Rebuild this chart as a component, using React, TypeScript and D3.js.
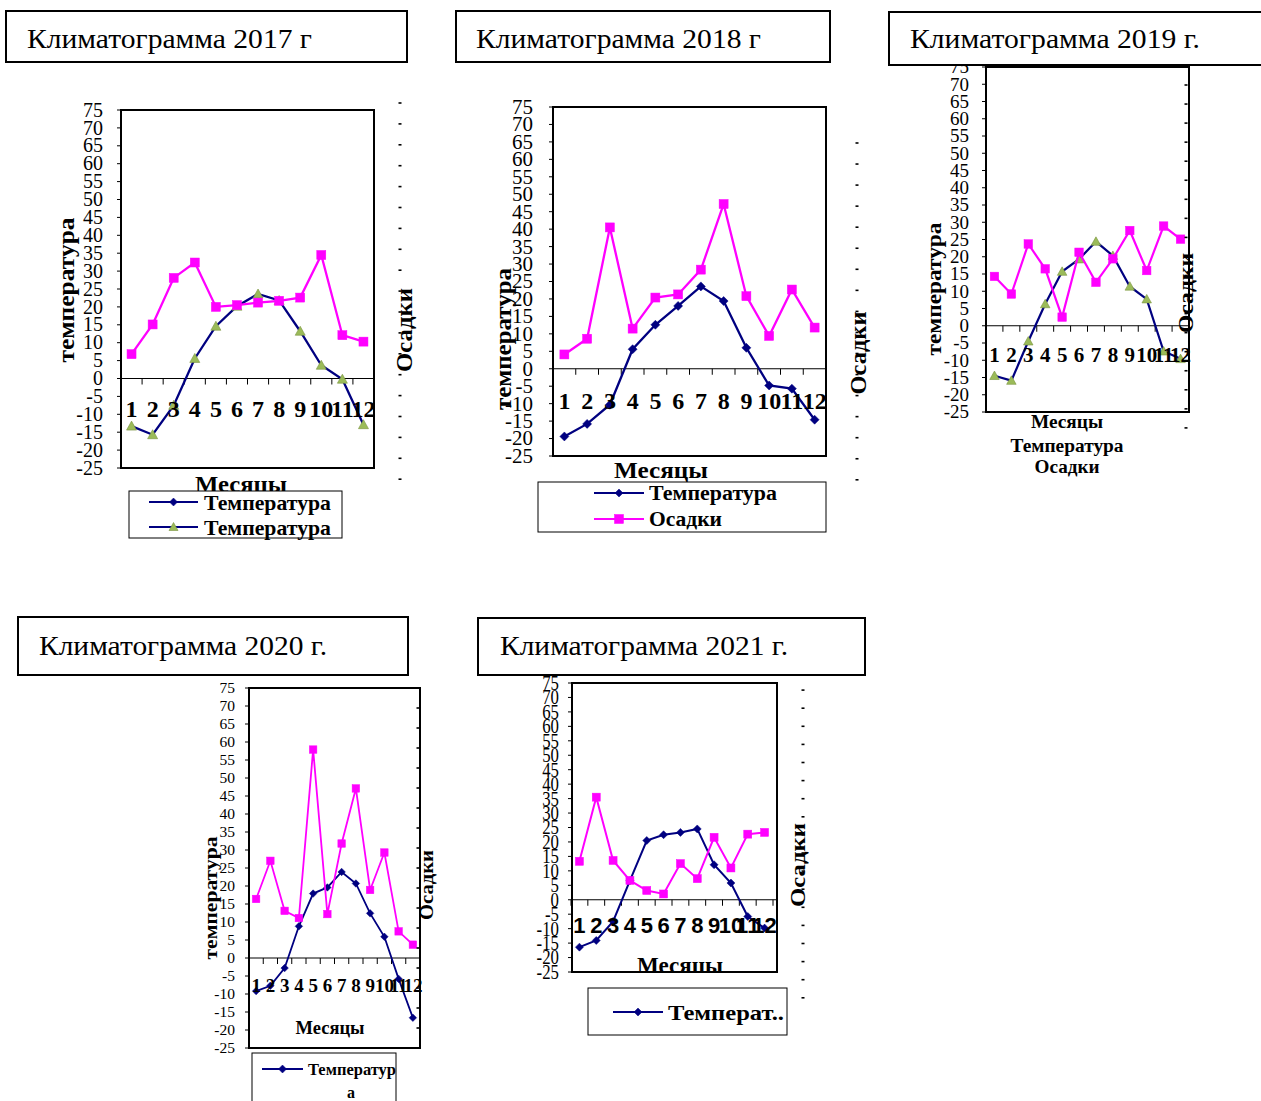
import React from 'react';
import * as d3 from 'd3';

// ---- data ----
const MONTHS = ['1', '2', '3', '4', '5', '6', '7', '8', '9', '10', '11', '12'];
const Y_TICKS = [-25, -20, -15, -10, -5, 0, 5, 10, 15, 20, 25, 30, 35, 40, 45, 50, 55, 60, 65, 70, 75];

const TEMP_2017 = [-13.3, -15.7, -7.5, 5.6, 14.6, 20.2, 23.6, 21.8, 13.2, 3.7, -0.2, -12.9];
const PRECIP_2017 = [6.8, 15.1, 28.1, 32.4, 20.0, 20.5, 21.2, 21.7, 22.6, 34.5, 12.1, 10.3];

const TEMP_2018 = [-19.4, -15.8, -10.3, 5.6, 12.6, 18.0, 23.6, 19.4, 6.0, -4.8, -5.7, -14.6];
const PRECIP_2018 = [4.1, 8.6, 40.5, 11.5, 20.4, 21.3, 28.4, 47.2, 20.8, 9.4, 22.7, 11.8];

const TEMP_2019 = [-14.5, -15.9, -4.5, 6.3, 15.7, 19.3, 24.4, 20.3, 11.4, 7.7, -7.4, -9.6];
const PRECIP_2019 = [14.3, 9.2, 23.7, 16.5, 2.5, 21.3, 12.6, 19.4, 27.6, 16.0, 28.9, 25.1];

const TEMP_2020 = [-9.2, -7.7, -2.8, 8.8, 17.9, 19.6, 23.9, 20.7, 12.4, 5.9, -5.8, -16.6];
const PRECIP_2020 = [16.4, 27.0, 13.1, 11.1, 57.9, 12.2, 31.8, 47.1, 18.9, 29.3, 7.4, 3.7];

const TEMP_2021 = [-16.4, -14.1, -7.5, 6.6, 20.5, 22.5, 23.3, 24.5, 12.1, 5.8, -5.8, -9.8];
const PRECIP_2021 = [13.3, 35.5, 13.6, 6.7, 3.2, 2.0, 12.5, 7.3, 21.6, 11.0, 22.7, 23.3];

// ---- styling ----
const SERIF = "'Liberation Serif', 'Times New Roman', serif";
const SANS = "'Liberation Sans', Arial, sans-serif";
const NAVY = '#000080';
const MAGENTA = '#FF00FF';
const GREEN = '#9BBB59';

type Marker = 'diamond' | 'triangle' | 'square';

function MarkerShape({ kind, x, y, s }: { kind: Marker; x: number; y: number; s: number }) {
  const h = s / 2;
  if (kind === 'square') {
    return <rect x={x - h} y={y - h} width={s} height={s} fill={MAGENTA} stroke={MAGENTA} strokeWidth={0.5} />;
  }
  if (kind === 'diamond') {
    return <path d={`M${x},${y - h}L${x + h},${y}L${x},${y + h}L${x - h},${y}Z`} fill={NAVY} stroke={NAVY} strokeWidth={0.5} />;
  }
  return (
    <path
      d={`M${x},${y - h - 0.5}L${x + h + 0.5},${y + h - 0.5}L${x - h - 0.5},${y + h - 0.5}Z`}
      fill={GREEN}
      stroke="#7A9440"
      strokeWidth={0.6}
    />
  );
}

function RotText({ x, y, text, len, fs }: { x: number; y: number; text: string; len: number; fs: number }) {
  return (
    <text
      transform={`translate(${x},${y}) rotate(-90)`}
      textAnchor="middle"
      fontFamily={SERIF}
      fontWeight="bold"
      fontSize={fs}
      textLength={len}
      lengthAdjust="spacingAndGlyphs"
    >
      {text}
    </text>
  );
}

interface LegendItem { marker: Marker; y: number; text: string; len: number }
interface Cfg {
  id: string;
  title: { x: number; y: number; w: number; h: number; tx: number; ty: number; text: string; len: number };
  frame: { l: number; t: number; r: number; b: number };
  xRange?: [number, number];
  tickX: number; tickFs: number; tickSX?: number;
  monthY: number; monthFs: number; monthFamily: string;
  yTitle?: { x: number; y: number; len: number; fs: number };
  rTitle: { x: number; y: number; len: number; fs: number };
  xTitle: { x: number; y: number; len: number; fs: number; clip?: number };
  extraTexts?: { x: number; y: number; text: string; len: number; fs: number }[];
  legend?: { box: [number, number, number, number]; lx1: number; lx2: number; tx: number; fs: number; items: LegendItem[]; tail?: { x: number; y: number; text: string } };
  dashes: { x: number; y0: number; step: number; n: number };
  tempMarker: Marker;
  ms: number; lw: number;
}

function Panel({ cfg, temp, precip }: { cfg: Cfg; temp: number[]; precip: number[] }) {
  const { frame } = cfg;
  const range = cfg.xRange ?? [frame.l, frame.r];
  const x = d3.scaleBand<string>().domain(MONTHS).range(range).paddingInner(0).paddingOuter(0);
  const y = d3.scaleLinear().domain([-25, 75]).range([frame.b, frame.t]);
  const cx = (i: number) => (x(MONTHS[i]) as number) + x.bandwidth() / 2;
  const line = d3.line<number>().x((_, i) => cx(i)).y((d) => y(d));
  const y0 = y(0);
  const sx = cfg.tickSX ?? 1;
  const clipId = `clip-${cfg.id}`;

  return (
    <g>
      {cfg.xTitle.clip !== undefined && (
        <defs>
          <clipPath id={clipId}>
            <rect x={frame.l} y={frame.t} width={frame.r - frame.l} height={cfg.xTitle.clip - frame.t} />
          </clipPath>
        </defs>
      )}
      {/* plot frame */}
      <rect x={frame.l} y={frame.t} width={frame.r - frame.l} height={frame.b - frame.t} fill="white" stroke="black" strokeWidth={2} />
      {/* zero line + month ticks */}
      <line x1={frame.l} x2={frame.r} y1={y0} y2={y0} stroke="black" strokeWidth={1} />
      {d3.range(0, 13).map((k) => {
        const xx = range[0] + k * x.bandwidth();
        return <line key={k} x1={xx} x2={xx} y1={y0} y2={y0 + 6} stroke="black" strokeWidth={1} />;
      })}
      {/* y axis ticks + labels */}
      {Y_TICKS.map((v) => (
        <g key={v}>
          <line x1={frame.l - 4} x2={frame.l} y1={y(v)} y2={y(v)} stroke="black" strokeWidth={1} />
          <text
            transform={`translate(${cfg.tickX},${y(v) + cfg.tickFs * 0.33}) scale(${sx},1)`}
            textAnchor="end"
            fontFamily={SERIF}
            fontSize={cfg.tickFs}
          >
            {v}
          </text>
        </g>
      ))}
      {/* temperature series */}
      <path d={line(temp) ?? ''} fill="none" stroke={NAVY} strokeWidth={cfg.lw} />
      {temp.map((v, i) => (
        <MarkerShape key={i} kind={cfg.tempMarker} x={cx(i)} y={y(v)} s={cfg.ms} />
      ))}
      {/* precipitation series */}
      <path d={line(precip) ?? ''} fill="none" stroke={MAGENTA} strokeWidth={cfg.lw} />
      {precip.map((v, i) => (
        <MarkerShape key={i} kind="square" x={cx(i)} y={y(v)} s={cfg.ms} />
      ))}
      {/* month labels */}
      {MONTHS.map((m, i) => (
        <text key={m} x={cx(i)} y={cfg.monthY} textAnchor="middle" fontFamily={cfg.monthFamily} fontWeight="bold" fontSize={cfg.monthFs}>
          {m}
        </text>
      ))}
      {/* axis titles */}
      {cfg.yTitle && <RotText x={cfg.yTitle.x} y={cfg.yTitle.y} text="температура" len={cfg.yTitle.len} fs={cfg.yTitle.fs} />}
      <RotText x={cfg.rTitle.x} y={cfg.rTitle.y} text="Осадки" len={cfg.rTitle.len} fs={cfg.rTitle.fs} />
      <text
        x={cfg.xTitle.x}
        y={cfg.xTitle.y}
        textAnchor="middle"
        fontFamily={SERIF}
        fontWeight="bold"
        fontSize={cfg.xTitle.fs}
        textLength={cfg.xTitle.len}
        lengthAdjust="spacingAndGlyphs"
        clipPath={cfg.xTitle.clip !== undefined ? `url(#${clipId})` : undefined}
      >
        Месяцы
      </text>
      {cfg.extraTexts?.map((t, i) => (
        <text key={i} x={t.x} y={t.y} textAnchor="middle" fontFamily={SERIF} fontWeight="bold" fontSize={t.fs} textLength={t.len} lengthAdjust="spacingAndGlyphs">
          {t.text}
        </text>
      ))}
      {/* secondary axis dashes */}
      {d3.range(cfg.dashes.n).map((k) => (
        <line key={k} x1={cfg.dashes.x - 1.5} x2={cfg.dashes.x + 1.5} y1={cfg.dashes.y0 + k * cfg.dashes.step} y2={cfg.dashes.y0 + k * cfg.dashes.step} stroke="black" strokeWidth={1.6} />
      ))}
      {/* legend */}
      {cfg.legend && (
        <g>
          <rect x={cfg.legend.box[0]} y={cfg.legend.box[1]} width={cfg.legend.box[2]} height={cfg.legend.box[3]} fill="white" stroke="black" strokeWidth={1} />
          {cfg.legend.items.map((it, i) => (
            <g key={i}>
              <line x1={cfg.legend!.lx1} x2={cfg.legend!.lx2} y1={it.y} y2={it.y} stroke={it.marker === 'square' ? MAGENTA : NAVY} strokeWidth={2} />
              <MarkerShape kind={it.marker} x={(cfg.legend!.lx1 + cfg.legend!.lx2) / 2} y={it.y} s={it.marker === 'square' ? 9 : 8} />
              <text x={cfg.legend!.tx} y={it.y + cfg.legend!.fs * 0.36} fontFamily={SERIF} fontWeight="bold" fontSize={cfg.legend!.fs} textLength={it.len} lengthAdjust="spacingAndGlyphs">
                {it.text}
              </text>
            </g>
          ))}
          {cfg.legend.tail && (
            <text x={cfg.legend.tail.x} y={cfg.legend.tail.y} textAnchor="middle" fontFamily={SERIF} fontWeight="bold" fontSize={cfg.legend.fs}>
              {cfg.legend.tail.text}
            </text>
          )}
        </g>
      )}
      {/* title box */}
      <rect x={cfg.title.x} y={cfg.title.y} width={cfg.title.w} height={cfg.title.h} fill="white" stroke="black" strokeWidth={2} />
      <text x={cfg.title.tx} y={cfg.title.ty} fontFamily={SERIF} fontSize={27} textLength={cfg.title.len} lengthAdjust="spacingAndGlyphs">
        {cfg.title.text}
      </text>
    </g>
  );
}

const CFG_2017: Cfg = {
  id: 'p2017',
  title: { x: 6, y: 11, w: 401, h: 51, tx: 27, ty: 48, text: 'Климатограмма 2017 г', len: 285 },
  frame: { l: 121, t: 110, r: 374, b: 468 },
  tickX: 103, tickFs: 20,
  monthY: 417, monthFs: 24, monthFamily: SERIF,
  yTitle: { x: 74, y: 290, len: 145, fs: 24 },
  rTitle: { x: 412, y: 330, len: 84, fs: 24 },
  xTitle: { x: 241, y: 492, len: 92, fs: 24 },
  legend: {
    box: [129, 491, 213, 47], lx1: 149, lx2: 198, tx: 204, fs: 21,
    items: [
      { marker: 'diamond', y: 502, text: 'Температура', len: 127 },
      { marker: 'triangle', y: 527, text: 'Температура', len: 127 },
    ],
  },
  dashes: { x: 400, y0: 103, step: 20.9, n: 19 },
  tempMarker: 'triangle', ms: 9, lw: 2.3,
};

const CFG_2018: Cfg = {
  id: 'p2018',
  title: { x: 456, y: 11, w: 374, h: 51, tx: 476, ty: 48, text: 'Климатограмма 2018 г', len: 285 },
  frame: { l: 553, t: 107, r: 826, b: 456 },
  tickX: 533, tickFs: 21,
  monthY: 409, monthFs: 24, monthFamily: SERIF,
  yTitle: { x: 511, y: 339, len: 142, fs: 24 },
  rTitle: { x: 866, y: 353, len: 83, fs: 24 },
  xTitle: { x: 661, y: 478, len: 94, fs: 24 },
  legend: {
    box: [538, 482, 288, 50], lx1: 594, lx2: 644, tx: 649, fs: 20,
    items: [
      { marker: 'diamond', y: 493, text: 'Температура', len: 128 },
      { marker: 'square', y: 519, text: 'Осадки', len: 73 },
    ],
  },
  dashes: { x: 857, y0: 143, step: 21.05, n: 17 },
  tempMarker: 'diamond', ms: 9, lw: 2.3,
};

const CFG_2019: Cfg = {
  id: 'p2019',
  title: { x: 889, y: 12, w: 390, h: 53, tx: 910, ty: 48, text: 'Климатограмма 2019 г.', len: 290 },
  frame: { l: 986, t: 67, r: 1189, b: 412 },
  tickX: 969, tickFs: 19,
  monthY: 362, monthFs: 21, monthFamily: SERIF,
  yTitle: { x: 941, y: 289, len: 133, fs: 22 },
  rTitle: { x: 1193, y: 293, len: 80, fs: 22 },
  xTitle: { x: 1067, y: 428, len: 72, fs: 18 },
  extraTexts: [
    { x: 1067, y: 452, text: 'Температура', len: 113, fs: 18 },
    { x: 1067, y: 473, text: 'Осадки', len: 65, fs: 18 },
  ],
  dashes: { x: 1186, y0: 85, step: 19.05, n: 19 },
  tempMarker: 'triangle', ms: 8.5, lw: 2.2,
};

const CFG_2020: Cfg = {
  id: 'p2020',
  title: { x: 18, y: 617, w: 390, h: 58, tx: 39, ty: 655, text: 'Климатограмма 2020 г.', len: 288 },
  frame: { l: 249, t: 688, r: 420, b: 1048 },
  tickX: 235, tickFs: 15.5,
  monthY: 992, monthFs: 19, monthFamily: SERIF,
  yTitle: { x: 217, y: 898, len: 123, fs: 19 },
  rTitle: { x: 433, y: 885, len: 70, fs: 18 },
  xTitle: { x: 330, y: 1034, len: 69, fs: 19 },
  legend: {
    box: [252, 1053, 144, 60], lx1: 262, lx2: 303, tx: 308, fs: 16,
    items: [{ marker: 'diamond', y: 1069, text: 'Температур', len: 88 }],
    tail: { x: 351, y: 1098, text: 'а' },
  },
  dashes: { x: 418, y0: 688, step: 20, n: 19 },
  tempMarker: 'diamond', ms: 7.5, lw: 1.8,
};

const CFG_2021: Cfg = {
  id: 'p2021',
  title: { x: 478, y: 618, w: 387, h: 57, tx: 500, ty: 655, text: 'Климатограмма 2021 г.', len: 288 },
  frame: { l: 572, t: 683, r: 777, b: 972 },
  xRange: [571, 773],
  tickX: 559, tickFs: 21, tickSX: 0.8,
  monthY: 933, monthFs: 22, monthFamily: SANS,
  rTitle: { x: 805, y: 865, len: 84, fs: 22 },
  xTitle: { x: 680, y: 973, len: 86, fs: 23, clip: 971 },
  legend: {
    box: [588, 988, 199, 47], lx1: 613, lx2: 663, tx: 668, fs: 21,
    items: [{ marker: 'diamond', y: 1012, text: 'Температ..', len: 116 }],
  },
  dashes: { x: 803, y0: 672, step: 18.1, n: 19 },
  tempMarker: 'diamond', ms: 8, lw: 2,
};

export default function App() {
  return (
    <svg width={1261} height={1101} viewBox="0 0 1261 1101" style={{ position: 'absolute', left: 0, top: 0, background: 'white' }}>
      <rect width={1261} height={1101} fill="white" />
      <Panel cfg={CFG_2017} temp={TEMP_2017} precip={PRECIP_2017} />
      <Panel cfg={CFG_2018} temp={TEMP_2018} precip={PRECIP_2018} />
      <Panel cfg={CFG_2019} temp={TEMP_2019} precip={PRECIP_2019} />
      <Panel cfg={CFG_2020} temp={TEMP_2020} precip={PRECIP_2020} />
      <Panel cfg={CFG_2021} temp={TEMP_2021} precip={PRECIP_2021} />
    </svg>
  );
}
